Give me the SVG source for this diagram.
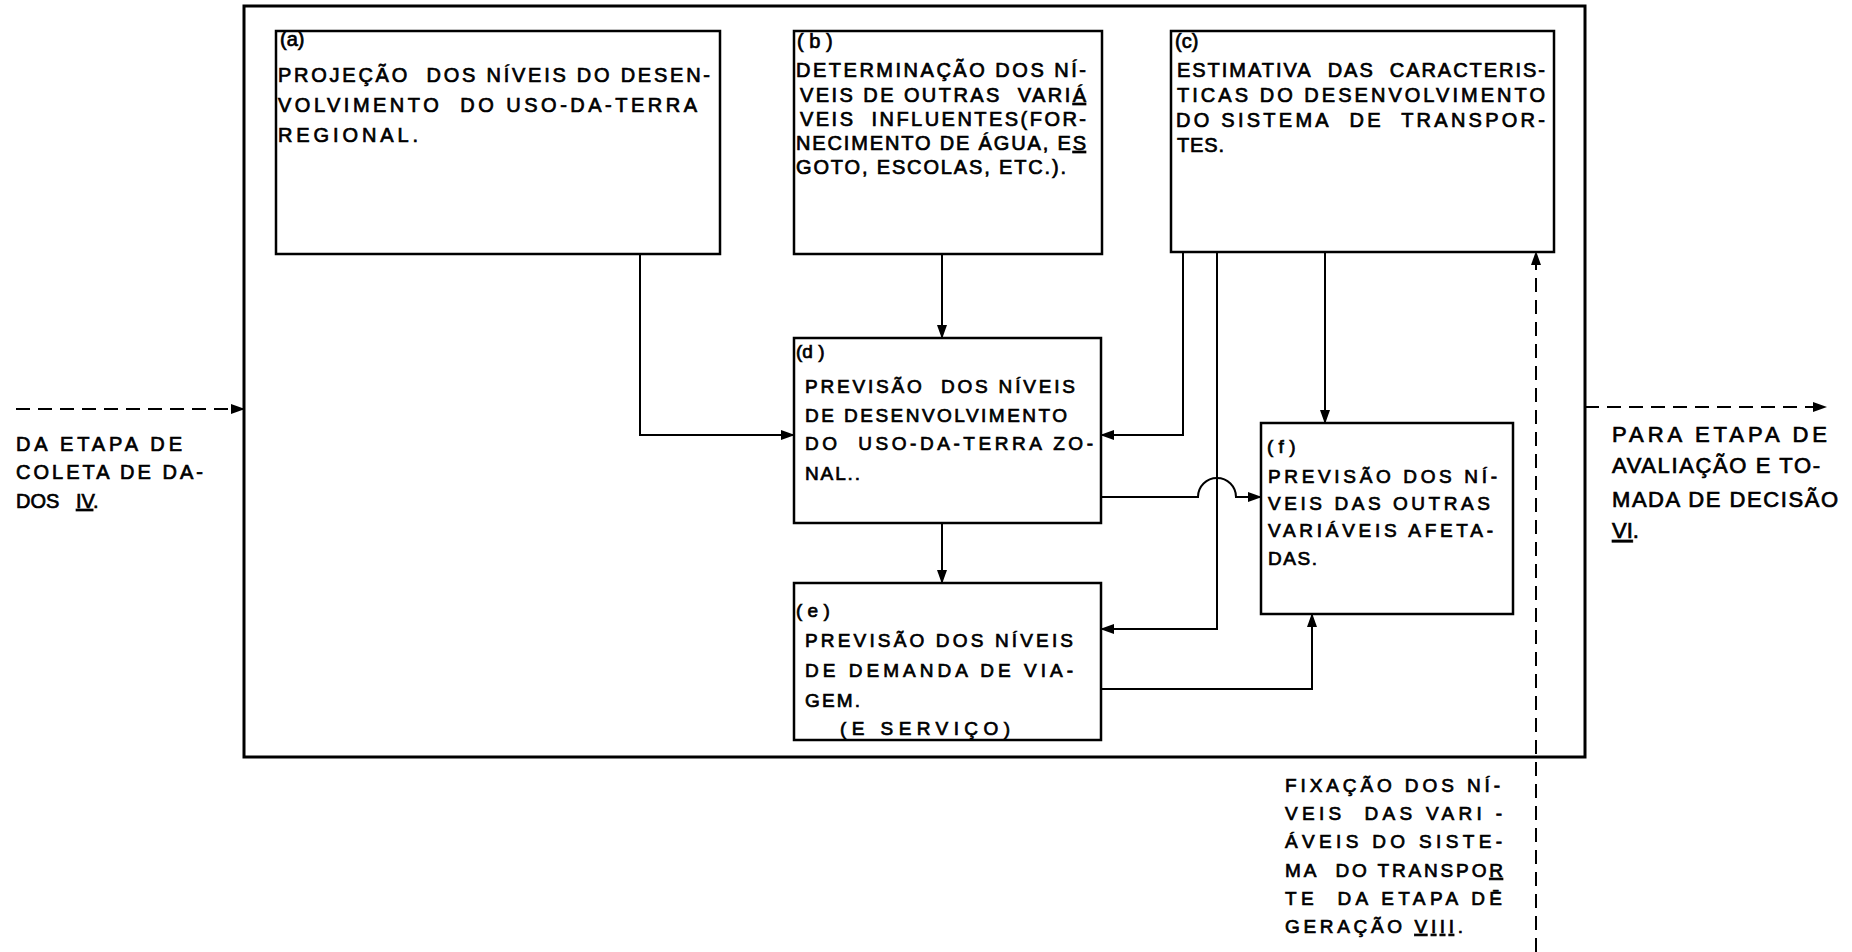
<svg xmlns="http://www.w3.org/2000/svg" width="1852" height="952" viewBox="0 0 1852 952">
<style>
.outer{fill:none;stroke:#000;stroke-width:3}
.box{fill:#fff;stroke:#000;stroke-width:2.5}
.conn{fill:none;stroke:#000;stroke-width:2}
.dash{stroke-dasharray:14 8}
text{font-family:"Liberation Sans",Arial,sans-serif;font-size:20px;fill:#000;stroke:#000;stroke-width:0.7}
.s19{font-size:19px}
.s22{font-size:22px}
</style>
<defs>
<marker id="ah" markerWidth="14" markerHeight="10" refX="13" refY="5" orient="auto" markerUnits="userSpaceOnUse">
<path d="M0,0 L14,5 L0,10 Z" fill="#000"/>
</marker>
</defs>
<rect id="outer" class="outer" x="244" y="6" width="1341" height="751"/>
<g id="connectors">
<path class="conn" d="M640,254 V435 H794" marker-end="url(#ah)"/>
<path class="conn" d="M942,254 V338" marker-end="url(#ah)"/>
<path class="conn" d="M1183,252 V435 H1101" marker-end="url(#ah)"/>
<path class="conn" d="M1217,252 V629 H1101" marker-end="url(#ah)"/>
<path class="conn" d="M1325,252 V423" marker-end="url(#ah)"/>
<path class="conn" d="M1101,497 H1198 A19,19 0 0 1 1236,497 H1261" marker-end="url(#ah)"/>
<path class="conn" d="M942,523 V583" marker-end="url(#ah)"/>
<path class="conn" d="M1101,689 H1312 V614" marker-end="url(#ah)"/>
<path class="conn dash" d="M1536,952 V252" marker-end="url(#ah)"/>
<path class="conn dash" d="M16,409 H244" marker-end="url(#ah)"/>
<path class="conn dash" d="M1585,407 H1826" marker-end="url(#ah)"/>
</g>
<g id="node-a">
<rect class="box" x="276" y="31" width="444" height="223"/>
<text x="280" y="46">(a)</text>
<text x="278" y="82" textLength="432" lengthAdjust="spacing">PROJEÇÃO&#160; DOS NÍVEIS DO DESEN-</text>
<text x="278" y="112" textLength="419" lengthAdjust="spacing">VOLVIMENTO&#160; DO USO-DA-TERRA</text>
<text x="278" y="142" textLength="140" lengthAdjust="spacing">REGIONAL.</text>
</g>
<g id="node-b">
<rect class="box" x="794" y="31" width="308" height="223"/>
<text x="797" y="48">( b )</text>
<text x="796" y="77" textLength="290" lengthAdjust="spacing">DETERMINAÇÃO DOS NÍ-</text>
<text x="800" y="102" textLength="286" lengthAdjust="spacing">VEIS DE OUTRAS&#160; VARI<tspan text-decoration="underline">Á</tspan></text>
<text x="800" y="126" textLength="286" lengthAdjust="spacing">VEIS&#160; INFLUENTES(FOR-</text>
<text x="796" y="150" textLength="290" lengthAdjust="spacing">NECIMENTO DE ÁGUA, E<tspan text-decoration="underline">S</tspan></text>
<text x="796" y="174" textLength="270" lengthAdjust="spacing">GOTO, ESCOLAS, ETC.).</text>
</g>
<g id="node-c">
<rect class="box" x="1171" y="31" width="383" height="221"/>
<text x="1175" y="48">(c)</text>
<text x="1177" y="77" textLength="368" lengthAdjust="spacing">ESTIMATIVA&#160; DAS&#160; CARACTERIS-</text>
<text x="1177" y="102" textLength="368" lengthAdjust="spacing">TICAS DO DESENVOLVIMENTO</text>
<text x="1176" y="127" textLength="369" lengthAdjust="spacing">DO SISTEMA&#160; DE&#160; TRANSPOR-</text>
<text x="1177" y="152" textLength="47" lengthAdjust="spacing">TES.</text>
</g>
<g id="node-d">
<rect class="box" x="794" y="338" width="307" height="185"/>
<text class="s19" x="796" y="358">(d )</text>
<text class="s19" x="805" y="393" textLength="270" lengthAdjust="spacing">PREVISÃO&#160; DOS NÍVEIS</text>
<text class="s19" x="805" y="422" textLength="262" lengthAdjust="spacing">DE DESENVOLVIMENTO</text>
<text class="s19" x="805" y="450" textLength="288" lengthAdjust="spacing">DO&#160; USO-DA-TERRA ZO-</text>
<text class="s19" x="805" y="480" textLength="55" lengthAdjust="spacing">NAL..</text>
</g>
<g id="node-e">
<rect class="box" x="794" y="583" width="307" height="157"/>
<text class="s19" x="796" y="617">( e )</text>
<text class="s19" x="805" y="647" textLength="268" lengthAdjust="spacing">PREVISÃO DOS NÍVEIS</text>
<text class="s19" x="805" y="677" textLength="268" lengthAdjust="spacing">DE DEMANDA DE VIA-</text>
<text class="s19" x="805" y="707" textLength="55" lengthAdjust="spacing">GEM.</text>
<text class="s19" x="840" y="735" textLength="170" lengthAdjust="spacing">(E SERVIÇO)</text>
</g>
<g id="node-f">
<rect class="box" x="1261" y="423" width="252" height="191"/>
<text class="s19" x="1267" y="453">( f )</text>
<text class="s19" x="1268" y="483" textLength="229" lengthAdjust="spacing">PREVISÃO DOS NÍ-</text>
<text class="s19" x="1268" y="510" textLength="222" lengthAdjust="spacing">VEIS DAS OUTRAS</text>
<text class="s19" x="1268" y="537" textLength="225" lengthAdjust="spacing">VARIÁVEIS AFETA-</text>
<text class="s19" x="1268" y="565" textLength="49" lengthAdjust="spacing">DAS.</text>
</g>
<g id="label-left">
<text x="16" y="451" textLength="166" lengthAdjust="spacing">DA ETAPA DE</text>
<text x="16" y="479" textLength="187" lengthAdjust="spacing">COLETA DE DA-</text>
<text x="16" y="508">DOS&#160;&#160; <tspan text-decoration="underline">IV</tspan>.</text>
</g>
<g id="label-right">
<text class="s22" x="1612" y="442" textLength="215" lengthAdjust="spacing">PARA ETAPA DE</text>
<text class="s22" x="1612" y="473" textLength="208" lengthAdjust="spacing">AVALIAÇÃO E TO-</text>
<text class="s22" x="1612" y="507" textLength="226" lengthAdjust="spacing">MADA DE DECISÃO</text>
<text class="s22" x="1612" y="538"><tspan text-decoration="underline">VI</tspan>.</text>
</g>
<g id="label-bottom">
<text class="s19" x="1285" y="792" textLength="215" lengthAdjust="spacing">FIXAÇÃO DOS NÍ-</text>
<text class="s19" x="1285" y="820" textLength="217" lengthAdjust="spacing">VEIS&#160; DAS VARI -</text>
<text class="s19" x="1285" y="848" textLength="217" lengthAdjust="spacing">ÁVEIS DO SISTE-</text>
<text class="s19" x="1285" y="877" textLength="218" lengthAdjust="spacing">MA&#160; DO TRANSPO<tspan text-decoration="underline">R</tspan></text>
<text class="s19" x="1285" y="905" textLength="217" lengthAdjust="spacing">TE&#160; DA ETAPA DĒ</text>
<text class="s19" x="1285" y="933" textLength="178" lengthAdjust="spacing">GERAÇÃO <tspan text-decoration="underline">VIII</tspan>.</text>
</g>
</svg>
